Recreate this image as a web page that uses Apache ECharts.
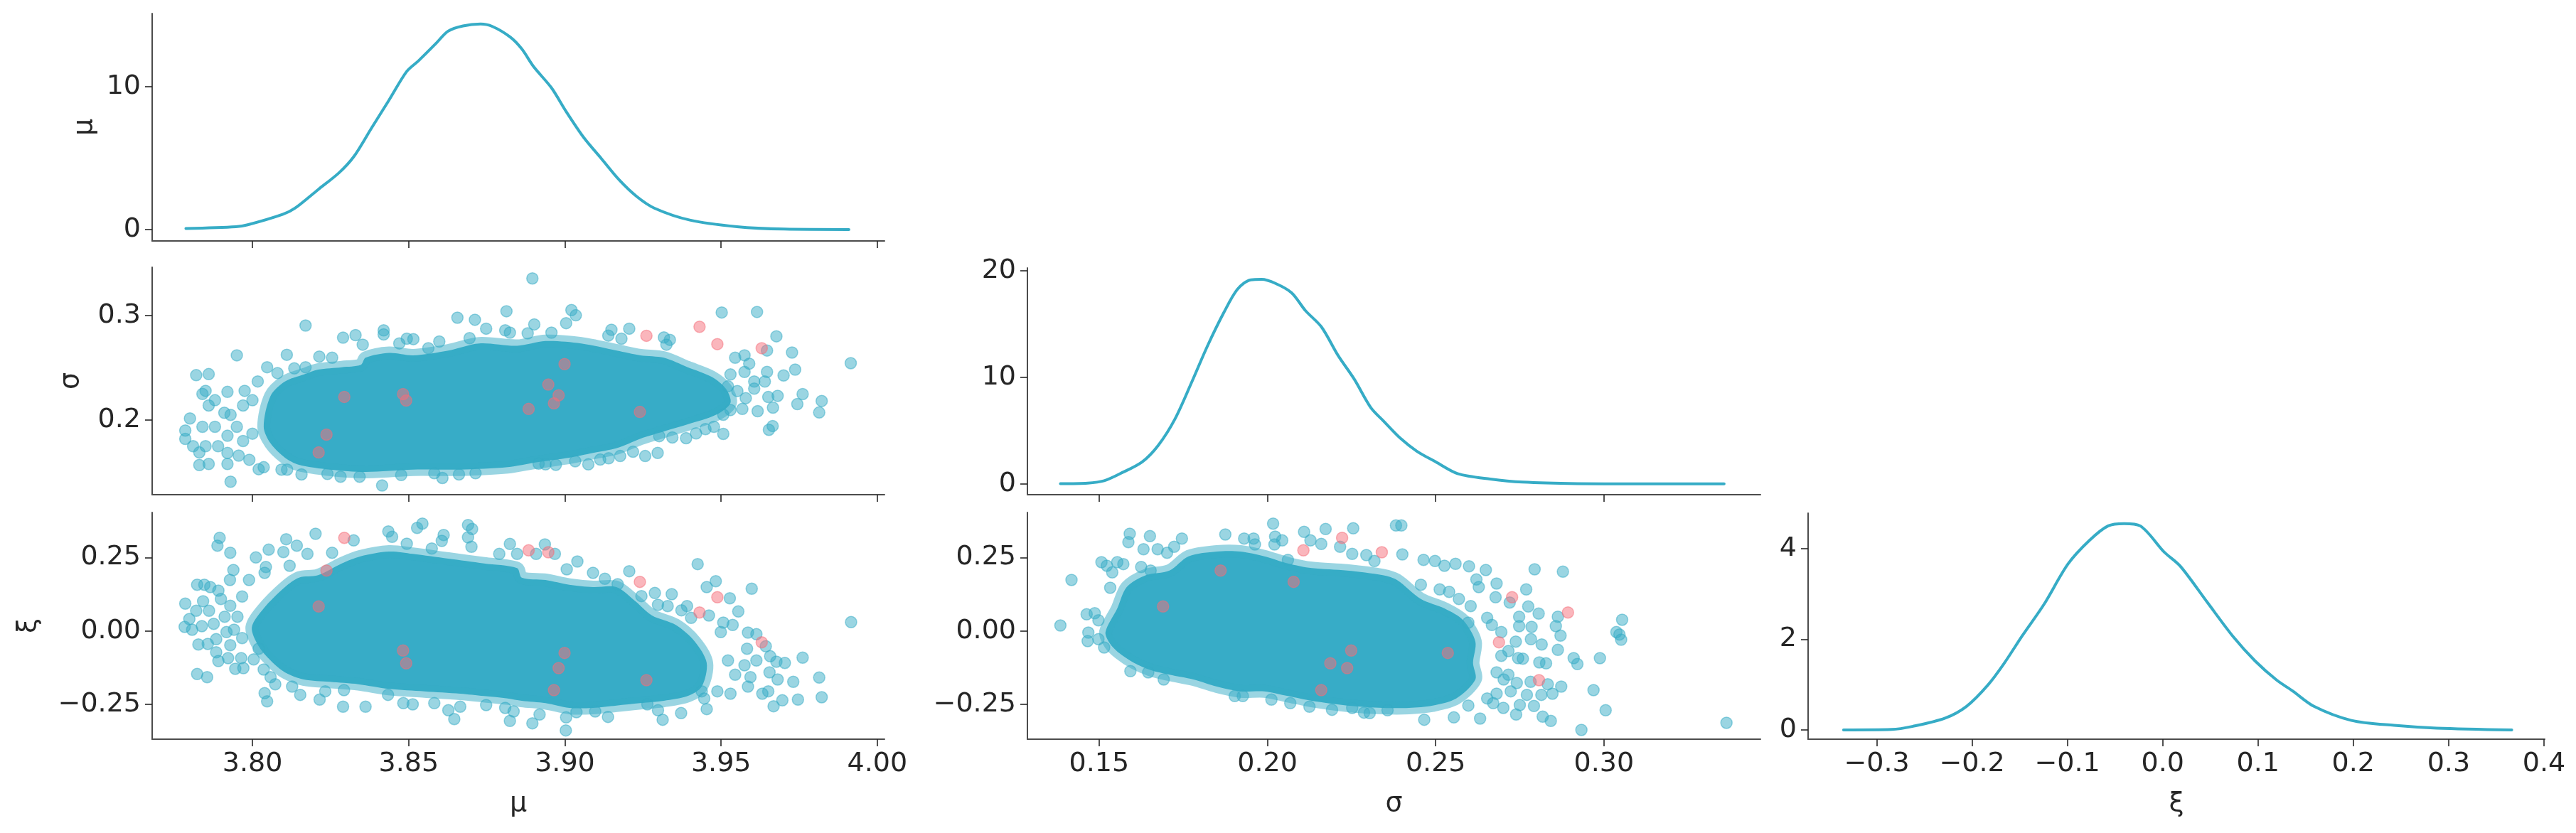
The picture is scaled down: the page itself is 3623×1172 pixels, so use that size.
<!DOCTYPE html>
<html>
<head>
<meta charset="utf-8">
<title>pair plot</title>
<script src="https://cdn.jsdelivr.net/npm/echarts@6.0.0/dist/echarts.min.js"></script>
<style>
  html, body { margin: 0; padding: 0; background: #fff; }
  #main { width: 3623px; height: 1172px; }
</style>
</head>
<body>
<div id="main"></div>
<script>
// marginal densities
var muKdeX = [3.7787, 3.7947, 3.7985, 3.8098, 3.8136, 3.8211, 3.8277, 3.8325, 3.8381, 3.8438, 3.8494, 3.8532, 3.8589, 3.8626, 3.8674, 3.8730, 3.8768, 3.8825, 3.8862, 3.8900, 3.8957, 3.9004, 3.9060, 3.9117, 3.9174, 3.9230, 3.9287, 3.9400, 3.9551, 3.9702, 3.9909];
var muKdeY = [0.07, 0.2, 0.33, 1.07, 1.49, 2.81, 3.97, 5.12, 7.1, 9.09, 11.07, 11.82, 13.06, 13.88, 14.25, 14.38, 14.21, 13.47, 12.64, 11.4, 9.92, 8.26, 6.45, 4.96, 3.47, 2.31, 1.49, 0.66, 0.2, 0.03, 0.0];

var sigmaKdeX = [0.1385, 0.1466, 0.1515, 0.1563, 0.1628, 0.1676, 0.1725, 0.1773, 0.1822, 0.1870, 0.1911, 0.1951, 0.1983, 0.2024, 0.2072, 0.2113, 0.2161, 0.2210, 0.2258, 0.2307, 0.2347, 0.2395, 0.2444, 0.2500, 0.2565, 0.2662, 0.2759, 0.2921, 0.3082, 0.3357];
var sigmaKdeY = [0.04, 0.09, 0.31, 0.98, 2.08, 3.64, 6.08, 9.4, 12.95, 16.05, 18.27, 19.16, 19.2, 18.82, 17.94, 16.27, 14.72, 12.06, 9.84, 7.18, 5.85, 4.3, 3.08, 2.08, 0.98, 0.47, 0.18, 0.04, 0.02, 0.02];

var xiKdeX = [-0.3348, -0.2844, -0.2619, -0.2283, -0.2058, -0.1834, -0.1666, -0.1469, -0.1245, -0.0993, -0.0768, -0.0572, -0.0404, -0.0236, 0.0017, 0.0185, 0.0466, 0.0746, 0.0970, 0.1195, 0.1363, 0.1587, 0.1980, 0.2428, 0.2877, 0.3662];
var xiKdeY = [0, 0.01, 0.08, 0.26, 0.52, 0.99, 1.46, 2.09, 2.77, 3.66, 4.18, 4.5, 4.55, 4.5, 3.92, 3.61, 2.82, 2.04, 1.52, 1.1, 0.86, 0.52, 0.21, 0.1, 0.04, 0];

// divergent draws (same 15 samples in every panel)
var divMu = [3.8294, 3.8237, 3.8212, 3.8482, 3.8492, 3.8999, 3.8947, 3.8980, 3.8965, 3.8884, 3.9240, 3.9261, 3.9431, 3.9488, 3.9630];
var divSigma = [0.2222, 0.1861, 0.1690, 0.2249, 0.2187, 0.2536, 0.2340, 0.2237, 0.2160, 0.2107, 0.2078, 0.2807, 0.2893, 0.2727, 0.2688];
var divXi = [0.317, 0.2057, 0.0832, -0.0668, -0.1103, -0.075, 0.2678, -0.1266, -0.2016, 0.2744, 0.167, -0.1677, 0.0629, 0.1147, -0.0387];

// outline of the saturated core of each sample cloud
var muSigmaCore = [[3.8036,0.1936],[3.8058,0.2232],[3.8104,0.2369],[3.8165,0.2437],[3.8210,0.2483],[3.8286,0.2506],[3.8347,0.2529],[3.8362,0.2597],[3.8438,0.2643],[3.8514,0.2620],[3.8627,0.2666],[3.8726,0.2734],[3.8847,0.2711],[3.8938,0.2757],[3.9052,0.2734],[3.9166,0.2666],[3.9242,0.2620],[3.9317,0.2597],[3.9393,0.2506],[3.9469,0.2415],[3.9515,0.2301],[3.9530,0.2164],[3.9484,0.2051],[3.9393,0.1959],[3.9317,0.1891],[3.9242,0.1822],[3.9166,0.1731],[3.9090,0.1686],[3.9014,0.1640],[3.8908,0.1595],[3.8817,0.1549],[3.8665,0.1526],[3.8514,0.1526],[3.8362,0.1504],[3.8248,0.1526],[3.8149,0.1572],[3.8104,0.1640],[3.8058,0.1777]];
var muXiCore = [[3.7998,0.0121],[3.8036,0.0767],[3.8104,0.1493],[3.8149,0.1815],[3.8210,0.1897],[3.8286,0.2299],[3.8346,0.2541],[3.8437,0.2703],[3.8513,0.2623],[3.8627,0.2461],[3.8741,0.2299],[3.8847,0.2139],[3.8862,0.1815],[3.8938,0.1735],[3.9014,0.1573],[3.9090,0.1493],[3.9165,0.1493],[3.9226,0.1009],[3.9279,0.0525],[3.9355,0.0203],[3.9416,-0.0363],[3.9454,-0.1089],[3.9438,-0.1895],[3.9393,-0.2217],[3.9317,-0.2379],[3.9241,-0.2459],[3.9165,-0.2541],[3.9090,-0.2621],[3.9014,-0.2621],[3.8938,-0.2459],[3.8862,-0.2379],[3.8817,-0.2299],[3.8741,-0.2217],[3.8665,-0.2137],[3.8551,-0.2057],[3.8437,-0.1975],[3.8339,-0.1815],[3.8248,-0.1733],[3.8164,-0.1653],[3.8104,-0.1411],[3.8058,-0.1007],[3.8020,-0.0523]];
var sigmaXiCore = [[0.1519,-0.0039],[0.1554,0.0767],[0.1582,0.1493],[0.1639,0.1897],[0.1709,0.2057],[0.1766,0.2541],[0.1850,0.2703],[0.1920,0.2703],[0.1991,0.2541],[0.2061,0.2299],[0.2132,0.2139],[0.2237,0.2057],[0.2343,0.1897],[0.2385,0.1735],[0.2456,0.1089],[0.2526,0.0767],[0.2582,0.0363],[0.2618,-0.0363],[0.2611,-0.1089],[0.2618,-0.1653],[0.2561,-0.2299],[0.2491,-0.2541],[0.2421,-0.2621],[0.2343,-0.2621],[0.2237,-0.2541],[0.2132,-0.2379],[0.2061,-0.2217],[0.1991,-0.2057],[0.1920,-0.2057],[0.1850,-0.1895],[0.1780,-0.1653],[0.1709,-0.1491],[0.1653,-0.1331],[0.1604,-0.1089],[0.1561,-0.0765],[0.1533,-0.0443]];

// individual draws visible around the cores
var muSigmaPts = [[3.817,0.2905],[3.795,0.262],[3.782,0.243],[3.786,0.244],[3.785,0.228],[3.784,0.225],[3.792,0.227],[3.7975,0.228],[3.788,0.219],[3.786,0.214],[3.780,0.2016],[3.7785,0.190],[3.7785,0.182],[3.784,0.1936],[3.788,0.1936],[3.793,0.205],[3.791,0.207],[3.781,0.175],[3.783,0.169],[3.785,0.175],[3.789,0.175],[3.792,0.185],[3.797,0.180],[3.800,0.187],[3.795,0.1936],[3.783,0.157],[3.786,0.158],[3.792,0.158],[3.792,0.1686],[3.7956,0.166],[3.799,0.162],[3.793,0.141],[3.802,0.153],[3.797,0.214],[3.800,0.219],[3.8017,0.237],[3.8047,0.2506],[3.808,0.245],[3.811,0.2625],[3.8134,0.2495],[3.817,0.2506],[3.8214,0.2608],[3.8255,0.2597],[3.829,0.2789],[3.833,0.2813],[3.8353,0.2722],[3.842,0.2859],[3.842,0.282],[3.847,0.2734],[3.8494,0.2779],[3.8515,0.2775],[3.8563,0.2688],[3.8598,0.2752],[3.8656,0.298],[3.8712,0.296],[3.8748,0.2875],[3.8813,0.3042],[3.8809,0.2859],[3.8824,0.2837],[3.8695,0.2784],[3.8415,0.1374],[3.8157,0.148],[3.824,0.1485],[3.8282,0.1458],[3.8343,0.1458],[3.8476,0.1474],[3.8608,0.1446],[3.8661,0.148],[3.8714,0.1492],[3.8582,0.1492],[3.8093,0.1526],[3.8111,0.1526],[3.8036,0.1549],
  [3.8896,0.3356],[3.9021,0.3053],[3.9035,0.3003],[3.9004,0.2928],[3.8902,0.2916],[3.8881,0.283],[3.8957,0.2837],[3.9149,0.2864],[3.9206,0.2875],[3.9139,0.2809],[3.9181,0.2779],[3.9317,0.2791],[3.9336,0.2768],[3.9325,0.2722],[3.9502,0.303],[3.9615,0.3035],[3.9677,0.2802],[3.9647,0.2666],[3.9727,0.2647],[3.9915,0.2545],[3.9737,0.2483],[3.970,0.2427],[3.9647,0.2461],[3.964,0.2369],[3.959,0.254],[3.9545,0.2597],[3.9575,0.262],[3.9681,0.2232],[3.9761,0.2249],[3.9822,0.2183],[3.9744,0.2153],[3.9814,0.2073],[3.9666,0.2119],[3.9651,0.2221],[3.9617,0.2085],[3.9579,0.221],[3.9568,0.2107],[3.9665,0.1943],[3.9653,0.1907],[3.953,0.2096],[3.9507,0.2051],[3.9507,0.1868],[3.9477,0.1936],[3.945,0.1914],[3.942,0.1873],[3.9388,0.1827],[3.9344,0.1834],[3.9302,0.1846],[3.9297,0.1686],[3.9257,0.1656],[3.9218,0.1697],[3.9177,0.1656],[3.914,0.1634],[3.9113,0.1622],[3.9075,0.1576],[3.9033,0.1606],[3.8971,0.1572],[3.8938,0.1576],[3.8916,0.1583],[3.9575,0.2461],[3.953,0.2437],[3.9606,0.2369],[3.9522,0.2324],[3.9552,0.2278],[3.9606,0.2301]];

var muXiPts = [[3.7895,0.317],[3.7888,0.2904],[3.7929,0.2662],[3.7939,0.2074],[3.7928,0.1735],[3.7989,0.1735],[3.8011,0.2502],[3.8052,0.2768],[3.8099,0.2686],[3.8108,0.3122],[3.8142,0.2904],[3.8202,0.3308],[3.8176,0.2623],[3.8255,0.2662],[3.8324,0.3083],[3.8435,0.3388],[3.8447,0.3204],[3.8527,0.3509],[3.8544,0.3654],[3.8612,0.3267],[3.8606,0.3066],[3.8574,0.2807],[3.8494,0.2969],[3.869,0.3606],[3.8703,0.347],[3.869,0.3187],[3.8701,0.2865],[3.8824,0.2962],[3.879,0.2623],[3.8847,0.2623],[3.8119,0.2219],[3.8043,0.2178],[3.8039,0.1977],[3.7823,0.1573],[3.7846,0.1573],[3.7865,0.1493],[3.7891,0.1372],[3.7785,0.0929],[3.7842,0.1009],[3.782,0.0687],[3.7861,0.0687],[3.7899,0.1089],[3.7929,0.0857],[3.7967,0.1171],[3.7798,0.0404],[3.7783,0.0138],[3.7807,0.0041],[3.7838,0.0162],[3.7876,0.0242],[3.7911,0.0484],[3.7952,0.0484],[3.7917,-0.0039],[3.7941,0.0041],[3.7967,-0.0242],[3.7884,-0.0281],[3.7827,-0.046],[3.7857,-0.0443],[3.7884,-0.0726],[3.7929,-0.0484],[3.7922,-0.0927],[3.7891,-0.1024],[3.7964,-0.0927],[3.7945,-0.129],[3.7971,-0.1266],[3.8004,-0.0968],[3.802,-0.0605],[3.7823,-0.1467],[3.7855,-0.1573],[3.8036,-0.1314],[3.8058,-0.1573],[3.8073,-0.1815],[3.8039,-0.212],[3.8047,-0.2396],[3.8127,-0.1895],[3.8153,-0.2178],[3.8215,-0.2338],[3.8233,-0.2057],[3.829,-0.258],[3.8293,-0.2016],[3.8362,-0.258],[3.8434,-0.2178],[3.8483,-0.2459],[3.8513,-0.25],[3.8582,-0.2459],[3.8627,-0.2701],[3.8646,-0.3001],[3.8665,-0.258],[3.8748,-0.2524],[3.8809,-0.2621],[3.8824,-0.3064],[3.8836,-0.2742],
  [3.8936,0.2945],[3.8908,0.2623],[3.8968,0.2623],[3.904,0.2364],[3.9006,0.2098],[3.909,0.1977],[3.9128,0.1776],[3.9206,0.2033],[3.9169,0.159],[3.9425,0.2275],[3.9483,0.1694],[3.9454,0.1493],[3.9598,0.1437],[3.9528,0.1113],[3.9555,0.0663],[3.9288,0.1292],[3.9342,0.1251],[3.9245,0.1186],[3.9298,0.0888],[3.9329,0.0847],[3.9391,0.0847],[3.9373,0.0702],[3.9404,0.0445],[3.9461,0.0525],[3.9507,0.0283],[3.9537,0.0203],[3.9499,-0.0039],[3.9586,-0.0056],[3.9613,-0.0111],[3.9583,-0.0605],[3.9657,-0.0862],[3.9704,-0.1089],[3.9761,-0.091],[3.9643,-0.0523],[3.9677,-0.1048],[3.9613,-0.1007],[3.9575,-0.1169],[3.9522,-0.1007],[3.9545,-0.1491],[3.9594,-0.1573],[3.9655,-0.1411],[3.9681,-0.1653],[3.9731,-0.1733],[3.9814,-0.1588],[3.9651,-0.2057],[3.9632,-0.2137],[3.9696,-0.2362],[3.9668,-0.2565],[3.9746,-0.2338],[3.9822,-0.2258],[3.9916,0.03],[3.953,-0.2137],[3.9586,-0.1895],[3.9488,-0.2057],[3.9454,-0.2662],[3.9372,-0.2798],[3.9313,-0.3025],[3.9298,-0.2701],[3.9264,-0.25],[3.9138,-0.2928],[3.9097,-0.2742],[3.9037,-0.2766],[3.9004,-0.2943],[3.9003,-0.3388],[3.8919,-0.2846],[3.8896,-0.3146],[3.9446,-0.2299],[3.9438,-0.2057]];

var sigmaXiPts = [[0.1385,0.0186],[0.1418,0.1735],[0.1533,0.1469],[0.1507,0.234],[0.1523,0.2219],[0.1539,0.1994],[0.1554,0.234],[0.1572,0.2275],[0.1587,0.3025],[0.1591,0.3308],[0.1651,0.3228],[0.1632,0.2783],[0.1674,0.2783],[0.1702,0.2662],[0.1723,0.2865],[0.1746,0.3146],[0.1625,0.2178],[0.1653,0.2057],[0.1463,0.0566],[0.1487,0.0605],[0.1498,0.0363],[0.1468,-0.0056],[0.1466,-0.0346],[0.1498,-0.0281],[0.1515,-0.0564],[0.1593,-0.137],[0.1646,-0.1411],[0.1692,-0.1653],[0.1875,0.3284],[0.1931,0.3146],[0.1959,0.3146],[0.2017,0.3654],[0.2023,0.3211],[0.2044,0.3083],[0.2021,0.2945],[0.2109,0.3374],[0.2128,0.3083],[0.2173,0.347],[0.216,0.2962],[0.2216,0.2865],[0.2255,0.3495],[0.2252,0.2623],[0.2294,0.2582],[0.2318,0.2381],[0.2382,0.3591],[0.2061,0.242],[0.1963,0.2945],[0.1903,-0.2217],[0.1927,-0.2217],[0.2012,-0.2338],[0.2068,-0.2459],[0.2125,-0.258],[0.2192,-0.2686],[0.2287,-0.2783],[0.2304,-0.2798],[0.2357,-0.2701],[0.2252,-0.2621],
  [0.2398,0.3591],[0.2401,0.2606],[0.2464,0.242],[0.2498,0.2381],[0.2526,0.2219],[0.2559,0.2285],[0.2599,0.2202],[0.2649,0.2074],[0.2621,0.1752],[0.2628,0.1493],[0.2681,0.1614],[0.2678,0.1147],[0.2769,0.1413],[0.2794,0.2098],[0.2878,0.2018],[0.2775,0.0832],[0.2806,0.059],[0.2748,0.0484],[0.272,0.0968],[0.2863,0.0484],[0.2857,0.0162],[0.2785,0.0138],[0.2871,-0.016],[0.2783,-0.0281],[0.2815,-0.046],[0.2863,-0.0644],[0.2759,-0.0944],[0.2808,-0.1072],[0.2828,-0.1104],[0.291,-0.0927],[0.2921,-0.1128],[0.2988,-0.0927],[0.3037,-0.0039],[0.3054,0.038],[0.3051,-0.0298],[0.3046,-0.0121],[0.2873,-0.1895],[0.2833,-0.1815],[0.2847,-0.2137],[0.2814,-0.2178],[0.2771,-0.2178],[0.2782,-0.1733],[0.2969,-0.2016],[0.3005,-0.2701],[0.2933,-0.3371],[0.2842,-0.3064],[0.2818,-0.2919],[0.2792,-0.2556],[0.275,-0.2524],[0.2739,-0.2846],[0.2701,-0.2621],[0.2671,-0.2459],[0.2632,-0.2984],[0.2554,-0.2943],[0.2466,-0.3025],[0.3364,-0.3129],[0.2741,-0.1774],[0.2723,-0.2057],[0.2745,-0.0927],[0.2738,-0.0363],[0.2748,0.0162],[0.2716,-0.0685],[0.2695,-0.0039],[0.2667,0.0203],[0.2653,0.0445],[0.2597,0.0283],[0.2604,0.0847],[0.2569,0.1089],[0.2512,0.1413],[0.254,0.1331],[0.2456,0.1573],[0.2681,-0.1411],[0.2702,-0.1653],[0.2653,-0.2299],[0.2597,-0.2541],[0.2681,-0.2137],[0.2695,-0.0847],[0.2716,-0.1491]];

// tick positions
var muTicks = [3.80, 3.85, 3.90, 3.95, 4.00];
var sigmaTicks = [0.15, 0.20, 0.25, 0.30];
var sigmaRowTicks = [0.2, 0.3];
var xiRowTicks = [-0.25, 0, 0.25];
var xiTicks = [-0.3, -0.2, -0.1, 0.0, 0.1, 0.2, 0.3, 0.4];
var muDensTicks = [0, 10];
var sigmaDensTicks = [0, 10, 20];
var xiDensTicks = [0, 2, 4];

var blue = '#36acc6';
var blueA = 'rgba(54,172,198,0.5)';
var redA = 'rgba(246,109,122,0.5)';
var textCol = '#262626';
var font = 'DejaVu Sans';

var myChart = echarts.init(document.getElementById('main'), null, {renderer: 'canvas'});

function fmt(n) {
    return function (v) { return v.toFixed(n).replace('-', '\u2212'); };
}

function zip(xs, ys) {
    return xs.map(function (x, i) { return [x, ys[i]]; });
}

function axis(grid, min, max, ticks, digits, showLabel, extra) {
    var a = {
        type: 'value', gridIndex: grid, min: min, max: max,
        splitLine: {show: false},
        axisLine: {show: true, onZero: false, lineStyle: {color: '#4c4c4c', width: 2}},
        axisTick: {show: true, length: 10, customValues: ticks, lineStyle: {color: textCol, width: 1.6}},
        axisLabel: {show: showLabel, customValues: ticks, formatter: fmt(digits),
            fontSize: 38, fontFamily: font, color: textCol, margin: 16},
        nameTextStyle: {fontSize: 38, fontFamily: font, color: textCol}
    };
    for (var k in extra) a[k] = extra[k];
    return a;
}

function kde(grid, xs, ys) {
    return {
        type: 'line', xAxisIndex: grid, yAxisIndex: grid,
        data: zip(xs, ys), showSymbol: false, smooth: 0.3,
        lineStyle: {color: blue, width: 4, cap: 'round', join: 'round'}, silent: true
    };
}

// dense part of the cloud: opaque core, translucent rim about one marker wide
function core(grid, outline) {
    return {
        type: 'custom', xAxisIndex: grid, yAxisIndex: grid, data: outline, silent: true,
        renderItem: function (params, api) {
            if (params.dataIndex !== 0) return null;
            var pts = outline.map(function (p) { return api.coord(p); });
            return {type: 'polygon', shape: {points: pts, smooth: 0.3},
                style: {fill: '#37acc7', stroke: blueA, lineWidth: 18, lineJoin: 'round'}};
        }
    };
}

function dots(grid, pts, color) {
    return {
        type: 'scatter', xAxisIndex: grid, yAxisIndex: grid, data: pts,
        symbolSize: 16, silent: true,
        itemStyle: {color: color, borderColor: color, borderWidth: 1.5, opacity: 1}
    };
}

var option = {
    animation: false,
    backgroundColor: '#ffffff',
    grid: [
        {left: 214, top: 19, width: 1030, height: 320, outerBoundsMode: 'none'},
        {left: 214, top: 376, width: 1030, height: 320, outerBoundsMode: 'none'},
        {left: 214, top: 721, width: 1030, height: 319, outerBoundsMode: 'none'},
        {left: 1445, top: 377, width: 1031, height: 319, outerBoundsMode: 'none'},
        {left: 1445, top: 721, width: 1031, height: 319, outerBoundsMode: 'none'},
        {left: 2543, top: 722, width: 1036, height: 318, outerBoundsMode: 'none'}
    ],
    xAxis: [
        axis(0, 3.7679, 4.0023, muTicks, 2, false, {}),
        axis(1, 3.7679, 4.0023, muTicks, 2, false, {}),
        axis(2, 3.7679, 4.0023, muTicks, 2, true, {name: 'μ', nameLocation: 'middle', nameGap: 72}),
        axis(3, 0.1287, 0.3465, sigmaTicks, 2, false, {}),
        axis(4, 0.1287, 0.3465, sigmaTicks, 2, true, {name: 'σ', nameLocation: 'middle', nameGap: 72}),
        axis(5, -0.372, 0.4008, xiTicks, 1, true, {name: 'ξ', nameLocation: 'middle', nameGap: 72})
    ],
    yAxis: [
        axis(0, -0.8, 15.12, muDensTicks, 0, true, {name: 'μ', nameLocation: 'middle', nameRotate: 90, nameGap: 76}),
        axis(1, 0.1286, 0.3463, sigmaRowTicks, 1, true, {name: 'σ', nameLocation: 'middle', nameRotate: 90, nameGap: 95}),
        axis(2, -0.3686, 0.4034, xiRowTicks, 2, true, {name: 'ξ', nameLocation: 'middle', nameRotate: 90, nameGap: 155}),
        axis(3, -1.0, 20.27, sigmaDensTicks, 0, true, {}),
        axis(4, -0.3686, 0.4034, xiRowTicks, 2, true, {}),
        axis(5, -0.204, 4.78, xiDensTicks, 0, true, {})
    ],
    series: [
        kde(0, muKdeX, muKdeY),
        core(1, muSigmaCore),
        dots(1, muSigmaPts, blueA),
        dots(1, zip(divMu, divSigma), redA),
        core(2, muXiCore),
        dots(2, muXiPts, blueA),
        dots(2, zip(divMu, divXi), redA),
        kde(3, sigmaKdeX, sigmaKdeY),
        core(4, sigmaXiCore),
        dots(4, sigmaXiPts, blueA),
        dots(4, zip(divSigma, divXi), redA),
        kde(5, xiKdeX, xiKdeY)
    ]
};

myChart.setOption(option);
</script>
</body>
</html>
